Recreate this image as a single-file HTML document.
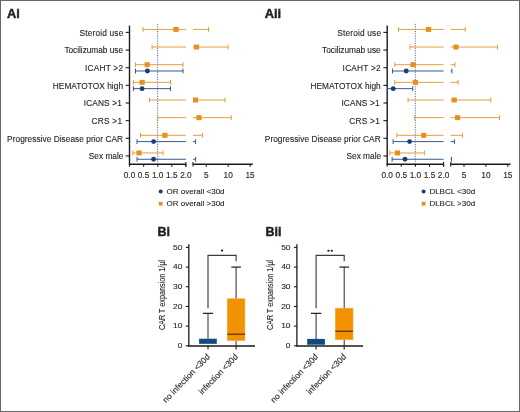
<!DOCTYPE html>
<html><head><meta charset="utf-8"><style>
html,body{margin:0;padding:0;background:#fff;}
body{width:520px;height:412px;overflow:hidden;}
#f{position:absolute;left:0;top:0;width:518px;height:410px;border:1px solid #676767;}
svg{position:absolute;left:0;top:0;will-change:transform;}
svg text{font-family:"Liberation Sans", sans-serif;fill:#231f20;stroke:#231f20;stroke-width:0.12px;}
</style></head><body>
<div id="f"></div>
<svg width="520" height="412" viewBox="0 0 520 412">
<line x1="157.6" y1="23.8" x2="157.6" y2="164.2" stroke="#52648c" stroke-width="1.0" stroke-dasharray="1.1 1.3"/>
<line x1="129.5" y1="25.6" x2="129.5" y2="164.79999999999998" stroke="#1a1a1a" stroke-width="1.4"/>
<line x1="125.7" y1="32.40" x2="129.5" y2="32.40" stroke="#1a1a1a" stroke-width="1.1"/>
<text x="79.60" y="35.60" font-size="8.3" textLength="43.70" lengthAdjust="spacing">Steroid use</text>
<line x1="125.7" y1="50.05" x2="129.5" y2="50.05" stroke="#1a1a1a" stroke-width="1.1"/>
<text x="64.40" y="53.25" font-size="8.3" textLength="58.60" lengthAdjust="spacing">Tocilizumab use</text>
<line x1="125.7" y1="67.70" x2="129.5" y2="67.70" stroke="#1a1a1a" stroke-width="1.1"/>
<text x="84.90" y="70.90" font-size="8.3" textLength="38.10" lengthAdjust="spacing">ICAHT >2</text>
<line x1="125.7" y1="85.35" x2="129.5" y2="85.35" stroke="#1a1a1a" stroke-width="1.1"/>
<text x="52.80" y="88.55" font-size="8.3" textLength="70.20" lengthAdjust="spacing">HEMATOTOX high</text>
<line x1="125.7" y1="103.00" x2="129.5" y2="103.00" stroke="#1a1a1a" stroke-width="1.1"/>
<text x="83.70" y="106.20" font-size="8.3" textLength="38.10" lengthAdjust="spacing">ICANS >1</text>
<line x1="125.7" y1="120.65" x2="129.5" y2="120.65" stroke="#1a1a1a" stroke-width="1.1"/>
<text x="91.50" y="123.85" font-size="8.3" textLength="30.60" lengthAdjust="spacing">CRS >1</text>
<line x1="125.7" y1="138.30" x2="129.5" y2="138.30" stroke="#1a1a1a" stroke-width="1.1"/>
<text x="7.10" y="141.50" font-size="8.3" textLength="115.90" lengthAdjust="spacing">Progressive Disease prior CAR</text>
<line x1="125.7" y1="155.95" x2="129.5" y2="155.95" stroke="#1a1a1a" stroke-width="1.1"/>
<text x="88.80" y="159.15" font-size="8.3" textLength="34.60" lengthAdjust="spacing">Sex male</text>
<line x1="128.9" y1="164.2" x2="185.9" y2="164.2" stroke="#1a1a1a" stroke-width="1.55"/>
<line x1="193.0" y1="164.2" x2="252.8" y2="164.2" stroke="#1a1a1a" stroke-width="1.55"/>
<line x1="185.9" y1="161.89999999999998" x2="185.9" y2="166.39999999999998" stroke="#1a1a1a" stroke-width="1.1"/>
<line x1="193.0" y1="161.89999999999998" x2="193.0" y2="166.39999999999998" stroke="#1a1a1a" stroke-width="1.1"/>
<line x1="129.50" y1="164.2" x2="129.50" y2="166.79999999999998" stroke="#1a1a1a" stroke-width="1.1"/>
<text x="129.50" y="177.90" text-anchor="middle" font-size="8.3">0.0</text>
<line x1="143.60" y1="164.2" x2="143.60" y2="166.79999999999998" stroke="#1a1a1a" stroke-width="1.1"/>
<text x="143.60" y="177.90" text-anchor="middle" font-size="8.3">0.5</text>
<line x1="157.70" y1="164.2" x2="157.70" y2="166.79999999999998" stroke="#1a1a1a" stroke-width="1.1"/>
<text x="157.70" y="177.90" text-anchor="middle" font-size="8.3">1.0</text>
<line x1="171.80" y1="164.2" x2="171.80" y2="166.79999999999998" stroke="#1a1a1a" stroke-width="1.1"/>
<text x="171.80" y="177.90" text-anchor="middle" font-size="8.3">1.5</text>
<line x1="185.90" y1="164.2" x2="185.90" y2="166.79999999999998" stroke="#1a1a1a" stroke-width="1.1"/>
<text x="185.90" y="177.90" text-anchor="middle" font-size="8.3">2.0</text>
<line x1="206.30" y1="164.2" x2="206.30" y2="166.79999999999998" stroke="#1a1a1a" stroke-width="1.1"/>
<text x="206.30" y="177.90" text-anchor="middle" font-size="8.3">5</text>
<line x1="228.20" y1="164.2" x2="228.20" y2="166.79999999999998" stroke="#1a1a1a" stroke-width="1.1"/>
<text x="228.20" y="177.90" text-anchor="middle" font-size="8.3">10</text>
<line x1="250.10" y1="164.2" x2="250.10" y2="166.79999999999998" stroke="#1a1a1a" stroke-width="1.1"/>
<text x="250.10" y="177.90" text-anchor="middle" font-size="8.3">15</text>
<line x1="143.00" y1="29.40" x2="185.90" y2="29.40" stroke="#e99634" stroke-width="0.95"/>
<line x1="193.00" y1="29.40" x2="208.50" y2="29.40" stroke="#e99634" stroke-width="0.95"/>
<line x1="143.00" y1="27.00" x2="143.00" y2="31.80" stroke="#e99634" stroke-width="0.95"/>
<line x1="208.50" y1="27.00" x2="208.50" y2="31.80" stroke="#e99634" stroke-width="0.95"/>
<line x1="152.10" y1="47.05" x2="185.90" y2="47.05" stroke="#e99634" stroke-width="0.95"/>
<line x1="193.00" y1="47.05" x2="228.10" y2="47.05" stroke="#e99634" stroke-width="0.95"/>
<line x1="152.10" y1="44.65" x2="152.10" y2="49.45" stroke="#e99634" stroke-width="0.95"/>
<line x1="228.10" y1="44.65" x2="228.10" y2="49.45" stroke="#e99634" stroke-width="0.95"/>
<line x1="135.50" y1="64.70" x2="183.00" y2="64.70" stroke="#e99634" stroke-width="0.95"/>
<line x1="135.50" y1="62.30" x2="135.50" y2="67.10" stroke="#e99634" stroke-width="0.95"/>
<line x1="183.00" y1="62.30" x2="183.00" y2="67.10" stroke="#e99634" stroke-width="0.95"/>
<line x1="135.50" y1="71.00" x2="183.00" y2="71.00" stroke="#2c5088" stroke-width="0.95"/>
<line x1="135.50" y1="68.60" x2="135.50" y2="73.40" stroke="#2c5088" stroke-width="0.95"/>
<line x1="183.00" y1="68.60" x2="183.00" y2="73.40" stroke="#2c5088" stroke-width="0.95"/>
<line x1="133.40" y1="82.35" x2="170.50" y2="82.35" stroke="#e99634" stroke-width="0.95"/>
<line x1="133.40" y1="79.95" x2="133.40" y2="84.75" stroke="#e99634" stroke-width="0.95"/>
<line x1="170.50" y1="79.95" x2="170.50" y2="84.75" stroke="#e99634" stroke-width="0.95"/>
<line x1="133.40" y1="88.65" x2="170.50" y2="88.65" stroke="#2c5088" stroke-width="0.95"/>
<line x1="133.40" y1="86.25" x2="133.40" y2="91.05" stroke="#2c5088" stroke-width="0.95"/>
<line x1="170.50" y1="86.25" x2="170.50" y2="91.05" stroke="#2c5088" stroke-width="0.95"/>
<line x1="149.50" y1="100.00" x2="185.90" y2="100.00" stroke="#e99634" stroke-width="0.95"/>
<line x1="193.00" y1="100.00" x2="225.00" y2="100.00" stroke="#e99634" stroke-width="0.95"/>
<line x1="149.50" y1="97.60" x2="149.50" y2="102.40" stroke="#e99634" stroke-width="0.95"/>
<line x1="225.00" y1="97.60" x2="225.00" y2="102.40" stroke="#e99634" stroke-width="0.95"/>
<line x1="157.75" y1="117.65" x2="185.90" y2="117.65" stroke="#e99634" stroke-width="0.95"/>
<line x1="193.00" y1="117.65" x2="231.25" y2="117.65" stroke="#e99634" stroke-width="0.95"/>
<line x1="157.75" y1="115.25" x2="157.75" y2="120.05" stroke="#e99634" stroke-width="0.95"/>
<line x1="231.25" y1="115.25" x2="231.25" y2="120.05" stroke="#e99634" stroke-width="0.95"/>
<line x1="140.50" y1="135.30" x2="185.90" y2="135.30" stroke="#e99634" stroke-width="0.95"/>
<line x1="193.00" y1="135.30" x2="202.50" y2="135.30" stroke="#e99634" stroke-width="0.95"/>
<line x1="140.50" y1="132.90" x2="140.50" y2="137.70" stroke="#e99634" stroke-width="0.95"/>
<line x1="202.50" y1="132.90" x2="202.50" y2="137.70" stroke="#e99634" stroke-width="0.95"/>
<line x1="137.00" y1="141.60" x2="185.90" y2="141.60" stroke="#2c5088" stroke-width="0.95"/>
<line x1="193.00" y1="141.60" x2="195.60" y2="141.60" stroke="#2c5088" stroke-width="0.95"/>
<line x1="137.00" y1="139.20" x2="137.00" y2="144.00" stroke="#2c5088" stroke-width="0.95"/>
<line x1="195.60" y1="139.20" x2="195.60" y2="144.00" stroke="#2c5088" stroke-width="0.95"/>
<line x1="132.75" y1="152.95" x2="163.00" y2="152.95" stroke="#e99634" stroke-width="0.95"/>
<line x1="132.75" y1="150.55" x2="132.75" y2="155.35" stroke="#e99634" stroke-width="0.95"/>
<line x1="163.00" y1="150.55" x2="163.00" y2="155.35" stroke="#e99634" stroke-width="0.95"/>
<line x1="137.00" y1="159.25" x2="185.90" y2="159.25" stroke="#2c5088" stroke-width="0.95"/>
<line x1="193.00" y1="159.25" x2="195.60" y2="159.25" stroke="#2c5088" stroke-width="0.95"/>
<line x1="137.00" y1="156.85" x2="137.00" y2="161.65" stroke="#2c5088" stroke-width="0.95"/>
<line x1="195.60" y1="156.85" x2="195.60" y2="161.65" stroke="#2c5088" stroke-width="0.95"/>
<rect x="173.40" y="26.90" width="5.2" height="5" fill="#e8901e"/>
<rect x="193.90" y="44.55" width="5.2" height="5" fill="#e8901e"/>
<rect x="144.60" y="62.20" width="5.2" height="5" fill="#e8901e"/>
<circle cx="147.40" cy="71.00" r="2.45" fill="#123f7a"/>
<rect x="139.50" y="79.85" width="5.2" height="5" fill="#e8901e"/>
<circle cx="142.10" cy="88.65" r="2.45" fill="#123f7a"/>
<rect x="193.00" y="97.50" width="5.2" height="5" fill="#e8901e"/>
<rect x="196.40" y="115.15" width="5.2" height="5" fill="#e8901e"/>
<rect x="162.30" y="132.80" width="5.2" height="5" fill="#e8901e"/>
<circle cx="153.60" cy="141.60" r="2.45" fill="#123f7a"/>
<rect x="136.40" y="150.45" width="5.2" height="5" fill="#e8901e"/>
<circle cx="153.60" cy="159.25" r="2.45" fill="#123f7a"/>
<circle cx="160.7" cy="191.6" r="2.0" fill="#123f7a"/>
<rect x="158.79999999999998" y="201.79999999999998" width="3.8" height="3.8" fill="#e8901e"/>
<text x="166.5" y="193.7" font-size="8.0">OR overall &lt;30d</text>
<text x="166.5" y="205.6" font-size="8.0">OR overall &gt;30d</text>
<line x1="415.29999999999995" y1="23.8" x2="415.29999999999995" y2="164.2" stroke="#52648c" stroke-width="1.0" stroke-dasharray="1.1 1.3"/>
<line x1="387.2" y1="25.6" x2="387.2" y2="164.79999999999998" stroke="#1a1a1a" stroke-width="1.4"/>
<line x1="383.4" y1="32.40" x2="387.2" y2="32.40" stroke="#1a1a1a" stroke-width="1.1"/>
<text x="337.30" y="35.60" font-size="8.3" textLength="43.70" lengthAdjust="spacing">Steroid use</text>
<line x1="383.4" y1="50.05" x2="387.2" y2="50.05" stroke="#1a1a1a" stroke-width="1.1"/>
<text x="322.10" y="53.25" font-size="8.3" textLength="58.60" lengthAdjust="spacing">Tocilizumab use</text>
<line x1="383.4" y1="67.70" x2="387.2" y2="67.70" stroke="#1a1a1a" stroke-width="1.1"/>
<text x="342.60" y="70.90" font-size="8.3" textLength="38.10" lengthAdjust="spacing">ICAHT >2</text>
<line x1="383.4" y1="85.35" x2="387.2" y2="85.35" stroke="#1a1a1a" stroke-width="1.1"/>
<text x="310.50" y="88.55" font-size="8.3" textLength="70.20" lengthAdjust="spacing">HEMATOTOX high</text>
<line x1="383.4" y1="103.00" x2="387.2" y2="103.00" stroke="#1a1a1a" stroke-width="1.1"/>
<text x="341.40" y="106.20" font-size="8.3" textLength="38.10" lengthAdjust="spacing">ICANS >1</text>
<line x1="383.4" y1="120.65" x2="387.2" y2="120.65" stroke="#1a1a1a" stroke-width="1.1"/>
<text x="349.20" y="123.85" font-size="8.3" textLength="30.60" lengthAdjust="spacing">CRS >1</text>
<line x1="383.4" y1="138.30" x2="387.2" y2="138.30" stroke="#1a1a1a" stroke-width="1.1"/>
<text x="264.80" y="141.50" font-size="8.3" textLength="115.90" lengthAdjust="spacing">Progressive Disease prior CAR</text>
<line x1="383.4" y1="155.95" x2="387.2" y2="155.95" stroke="#1a1a1a" stroke-width="1.1"/>
<text x="346.50" y="159.15" font-size="8.3" textLength="34.60" lengthAdjust="spacing">Sex male</text>
<line x1="386.59999999999997" y1="164.2" x2="443.6" y2="164.2" stroke="#1a1a1a" stroke-width="1.55"/>
<line x1="450.7" y1="164.2" x2="510.5" y2="164.2" stroke="#1a1a1a" stroke-width="1.55"/>
<line x1="443.6" y1="161.89999999999998" x2="443.6" y2="166.39999999999998" stroke="#1a1a1a" stroke-width="1.1"/>
<line x1="450.7" y1="161.89999999999998" x2="450.7" y2="166.39999999999998" stroke="#1a1a1a" stroke-width="1.1"/>
<line x1="387.20" y1="164.2" x2="387.20" y2="166.79999999999998" stroke="#1a1a1a" stroke-width="1.1"/>
<text x="387.20" y="177.90" text-anchor="middle" font-size="8.3">0.0</text>
<line x1="401.30" y1="164.2" x2="401.30" y2="166.79999999999998" stroke="#1a1a1a" stroke-width="1.1"/>
<text x="401.30" y="177.90" text-anchor="middle" font-size="8.3">0.5</text>
<line x1="415.40" y1="164.2" x2="415.40" y2="166.79999999999998" stroke="#1a1a1a" stroke-width="1.1"/>
<text x="415.40" y="177.90" text-anchor="middle" font-size="8.3">1.0</text>
<line x1="429.50" y1="164.2" x2="429.50" y2="166.79999999999998" stroke="#1a1a1a" stroke-width="1.1"/>
<text x="429.50" y="177.90" text-anchor="middle" font-size="8.3">1.5</text>
<line x1="443.60" y1="164.2" x2="443.60" y2="166.79999999999998" stroke="#1a1a1a" stroke-width="1.1"/>
<text x="443.60" y="177.90" text-anchor="middle" font-size="8.3">2.0</text>
<line x1="464.00" y1="164.2" x2="464.00" y2="166.79999999999998" stroke="#1a1a1a" stroke-width="1.1"/>
<text x="464.00" y="177.90" text-anchor="middle" font-size="8.3">5</text>
<line x1="485.90" y1="164.2" x2="485.90" y2="166.79999999999998" stroke="#1a1a1a" stroke-width="1.1"/>
<text x="485.90" y="177.90" text-anchor="middle" font-size="8.3">10</text>
<line x1="507.80" y1="164.2" x2="507.80" y2="166.79999999999998" stroke="#1a1a1a" stroke-width="1.1"/>
<text x="507.80" y="177.90" text-anchor="middle" font-size="8.3">15</text>
<line x1="398.50" y1="29.40" x2="443.60" y2="29.40" stroke="#e99634" stroke-width="0.95"/>
<line x1="450.70" y1="29.40" x2="465.25" y2="29.40" stroke="#e99634" stroke-width="0.95"/>
<line x1="398.50" y1="27.00" x2="398.50" y2="31.80" stroke="#e99634" stroke-width="0.95"/>
<line x1="465.25" y1="27.00" x2="465.25" y2="31.80" stroke="#e99634" stroke-width="0.95"/>
<line x1="410.00" y1="47.05" x2="443.60" y2="47.05" stroke="#e99634" stroke-width="0.95"/>
<line x1="450.70" y1="47.05" x2="497.50" y2="47.05" stroke="#e99634" stroke-width="0.95"/>
<line x1="410.00" y1="44.65" x2="410.00" y2="49.45" stroke="#e99634" stroke-width="0.95"/>
<line x1="497.50" y1="44.65" x2="497.50" y2="49.45" stroke="#e99634" stroke-width="0.95"/>
<line x1="394.75" y1="64.70" x2="443.60" y2="64.70" stroke="#e99634" stroke-width="0.95"/>
<line x1="450.70" y1="64.70" x2="455.00" y2="64.70" stroke="#e99634" stroke-width="0.95"/>
<line x1="394.75" y1="62.30" x2="394.75" y2="67.10" stroke="#e99634" stroke-width="0.95"/>
<line x1="455.00" y1="62.30" x2="455.00" y2="67.10" stroke="#e99634" stroke-width="0.95"/>
<line x1="392.50" y1="71.00" x2="443.60" y2="71.00" stroke="#2c5088" stroke-width="0.95"/>
<line x1="450.70" y1="71.00" x2="451.90" y2="71.00" stroke="#2c5088" stroke-width="0.95"/>
<line x1="392.50" y1="68.60" x2="392.50" y2="73.40" stroke="#2c5088" stroke-width="0.95"/>
<line x1="451.90" y1="68.60" x2="451.90" y2="73.40" stroke="#2c5088" stroke-width="0.95"/>
<line x1="394.75" y1="82.35" x2="443.60" y2="82.35" stroke="#e99634" stroke-width="0.95"/>
<line x1="450.70" y1="82.35" x2="458.10" y2="82.35" stroke="#e99634" stroke-width="0.95"/>
<line x1="394.75" y1="79.95" x2="394.75" y2="84.75" stroke="#e99634" stroke-width="0.95"/>
<line x1="458.10" y1="79.95" x2="458.10" y2="84.75" stroke="#e99634" stroke-width="0.95"/>
<line x1="387.40" y1="88.65" x2="412.75" y2="88.65" stroke="#2c5088" stroke-width="0.95"/>
<line x1="387.40" y1="86.25" x2="387.40" y2="91.05" stroke="#2c5088" stroke-width="0.95"/>
<line x1="412.75" y1="86.25" x2="412.75" y2="91.05" stroke="#2c5088" stroke-width="0.95"/>
<line x1="408.10" y1="100.00" x2="443.60" y2="100.00" stroke="#e99634" stroke-width="0.95"/>
<line x1="450.70" y1="100.00" x2="490.80" y2="100.00" stroke="#e99634" stroke-width="0.95"/>
<line x1="408.10" y1="97.60" x2="408.10" y2="102.40" stroke="#e99634" stroke-width="0.95"/>
<line x1="490.80" y1="97.60" x2="490.80" y2="102.40" stroke="#e99634" stroke-width="0.95"/>
<line x1="414.75" y1="117.65" x2="443.60" y2="117.65" stroke="#e99634" stroke-width="0.95"/>
<line x1="450.70" y1="117.65" x2="499.60" y2="117.65" stroke="#e99634" stroke-width="0.95"/>
<line x1="414.75" y1="115.25" x2="414.75" y2="120.05" stroke="#e99634" stroke-width="0.95"/>
<line x1="499.60" y1="115.25" x2="499.60" y2="120.05" stroke="#e99634" stroke-width="0.95"/>
<line x1="396.90" y1="135.30" x2="443.60" y2="135.30" stroke="#e99634" stroke-width="0.95"/>
<line x1="450.70" y1="135.30" x2="462.50" y2="135.30" stroke="#e99634" stroke-width="0.95"/>
<line x1="396.90" y1="132.90" x2="396.90" y2="137.70" stroke="#e99634" stroke-width="0.95"/>
<line x1="462.50" y1="132.90" x2="462.50" y2="137.70" stroke="#e99634" stroke-width="0.95"/>
<line x1="393.10" y1="141.60" x2="443.60" y2="141.60" stroke="#2c5088" stroke-width="0.95"/>
<line x1="450.70" y1="141.60" x2="454.40" y2="141.60" stroke="#2c5088" stroke-width="0.95"/>
<line x1="393.10" y1="139.20" x2="393.10" y2="144.00" stroke="#2c5088" stroke-width="0.95"/>
<line x1="454.40" y1="139.20" x2="454.40" y2="144.00" stroke="#2c5088" stroke-width="0.95"/>
<line x1="389.75" y1="152.95" x2="424.40" y2="152.95" stroke="#e99634" stroke-width="0.95"/>
<line x1="389.75" y1="150.55" x2="389.75" y2="155.35" stroke="#e99634" stroke-width="0.95"/>
<line x1="424.40" y1="150.55" x2="424.40" y2="155.35" stroke="#e99634" stroke-width="0.95"/>
<line x1="392.10" y1="159.25" x2="443.60" y2="159.25" stroke="#2c5088" stroke-width="0.95"/>
<line x1="450.70" y1="159.25" x2="451.50" y2="159.25" stroke="#2c5088" stroke-width="0.95"/>
<line x1="392.10" y1="156.85" x2="392.10" y2="161.65" stroke="#2c5088" stroke-width="0.95"/>
<line x1="451.50" y1="156.85" x2="451.50" y2="161.65" stroke="#2c5088" stroke-width="0.95"/>
<rect x="425.90" y="26.90" width="5.2" height="5" fill="#e8901e"/>
<rect x="453.40" y="44.55" width="5.2" height="5" fill="#e8901e"/>
<rect x="410.50" y="62.20" width="5.2" height="5" fill="#e8901e"/>
<circle cx="406.25" cy="71.00" r="2.45" fill="#123f7a"/>
<rect x="412.80" y="79.85" width="5.2" height="5" fill="#e8901e"/>
<circle cx="393.20" cy="88.65" r="2.45" fill="#123f7a"/>
<rect x="451.60" y="97.50" width="5.2" height="5" fill="#e8901e"/>
<rect x="455.00" y="115.15" width="5.2" height="5" fill="#e8901e"/>
<rect x="421.15" y="132.80" width="5.2" height="5" fill="#e8901e"/>
<circle cx="409.60" cy="141.60" r="2.45" fill="#123f7a"/>
<rect x="394.90" y="150.45" width="5.2" height="5" fill="#e8901e"/>
<circle cx="405.00" cy="159.25" r="2.45" fill="#123f7a"/>
<circle cx="423.59999999999997" cy="191.6" r="2.0" fill="#123f7a"/>
<rect x="421.7" y="201.79999999999998" width="3.8" height="3.8" fill="#e8901e"/>
<text x="429.4" y="193.7" font-size="8.0">DLBCL &lt;30d</text>
<text x="429.4" y="205.6" font-size="8.0">DLBCL &gt;30d</text>
<text x="7.0" y="18.3" font-size="12.8" font-weight="bold" style="stroke-width:0.45px">Ai</text>
<text x="264.7" y="18.1" font-size="12.8" font-weight="bold" style="stroke-width:0.45px">Aii</text>
<text x="157.4" y="236.0" font-size="12.5" font-weight="bold" style="stroke-width:0.45px">Bi</text>
<text x="265.5" y="235.8" font-size="12.5" font-weight="bold" style="stroke-width:0.45px">Bii</text>
<line x1="188.8" y1="244.3" x2="188.8" y2="346.4" stroke="#1a1a1a" stroke-width="1.3"/>
<line x1="185.8" y1="345.80" x2="188.8" y2="345.80" stroke="#1a1a1a" stroke-width="1.1"/>
<text transform="translate(182.40,348.10) scale(0.98,0.88)" text-anchor="end" font-size="8.6">0</text>
<line x1="185.8" y1="326.12" x2="188.8" y2="326.12" stroke="#1a1a1a" stroke-width="1.1"/>
<text transform="translate(182.40,328.42) scale(0.98,0.88)" text-anchor="end" font-size="8.6">10</text>
<line x1="185.8" y1="306.44" x2="188.8" y2="306.44" stroke="#1a1a1a" stroke-width="1.1"/>
<text transform="translate(182.40,308.74) scale(0.98,0.88)" text-anchor="end" font-size="8.6">20</text>
<line x1="185.8" y1="286.76" x2="188.8" y2="286.76" stroke="#1a1a1a" stroke-width="1.1"/>
<text transform="translate(182.40,289.06) scale(0.98,0.88)" text-anchor="end" font-size="8.6">30</text>
<line x1="185.8" y1="267.08" x2="188.8" y2="267.08" stroke="#1a1a1a" stroke-width="1.1"/>
<text transform="translate(182.40,269.38) scale(0.98,0.88)" text-anchor="end" font-size="8.6">40</text>
<line x1="185.8" y1="247.40" x2="188.8" y2="247.40" stroke="#1a1a1a" stroke-width="1.1"/>
<text transform="translate(182.40,249.70) scale(0.98,0.88)" text-anchor="end" font-size="8.6">50</text>
<line x1="188.20000000000002" y1="346.1" x2="255.0" y2="346.1" stroke="#1a1a1a" stroke-width="1.5"/>
<line x1="208.0" y1="346.1" x2="208.0" y2="349.4" stroke="#1a1a1a" stroke-width="1.1"/>
<line x1="236.1" y1="346.1" x2="236.1" y2="349.4" stroke="#1a1a1a" stroke-width="1.1"/>
<line x1="208.0" y1="313.33" x2="208.0" y2="338.72" stroke="#3e3e3e" stroke-width="1.1"/>
<line x1="202.8" y1="313.33" x2="213.2" y2="313.33" stroke="#1a1a1a" stroke-width="1.2"/>
<rect x="199.1" y="338.72" width="17.7" height="5.12" fill="#114a80"/>
<line x1="236.1" y1="267.08" x2="236.1" y2="298.76" stroke="#3e3e3e" stroke-width="1.1"/>
<line x1="236.1" y1="340.68" x2="236.1" y2="345.9" stroke="#3e3e3e" stroke-width="1.1"/>
<line x1="231.29999999999998" y1="267.08" x2="240.9" y2="267.08" stroke="#1a1a1a" stroke-width="1.2"/>
<rect x="227.3" y="298.76" width="17.6" height="41.92" fill="#f39200" stroke="#f6a832" stroke-width="0.6"/>
<line x1="227.3" y1="334.19" x2="244.9" y2="334.19" stroke="#5c2a05" stroke-width="1.2"/>
<polyline points="208.0,308.2 208.0,255.3 236.1,255.3 236.1,261.3" fill="none" stroke="#3c3c3c" stroke-width="1.15"/>
<ellipse cx="222.05" cy="250.6" rx="1.15" ry="1.05" fill="#1a1a1a"/>
<text transform="translate(165.10,330.0) rotate(-90) scale(0.82,1)" font-size="8.8">CAR T expansion 1/µl</text>
<text transform="translate(210.50,357.2) rotate(-46) " text-anchor="end" font-size="8.4">no infection &lt;30d</text>
<text transform="translate(238.60,357.2) rotate(-46) " text-anchor="end" font-size="8.4">infection &lt;30d</text>
<line x1="296.9" y1="244.3" x2="296.9" y2="346.4" stroke="#1a1a1a" stroke-width="1.3"/>
<line x1="293.9" y1="345.80" x2="296.9" y2="345.80" stroke="#1a1a1a" stroke-width="1.1"/>
<text transform="translate(290.50,348.10) scale(0.98,0.88)" text-anchor="end" font-size="8.6">0</text>
<line x1="293.9" y1="326.12" x2="296.9" y2="326.12" stroke="#1a1a1a" stroke-width="1.1"/>
<text transform="translate(290.50,328.42) scale(0.98,0.88)" text-anchor="end" font-size="8.6">10</text>
<line x1="293.9" y1="306.44" x2="296.9" y2="306.44" stroke="#1a1a1a" stroke-width="1.1"/>
<text transform="translate(290.50,308.74) scale(0.98,0.88)" text-anchor="end" font-size="8.6">20</text>
<line x1="293.9" y1="286.76" x2="296.9" y2="286.76" stroke="#1a1a1a" stroke-width="1.1"/>
<text transform="translate(290.50,289.06) scale(0.98,0.88)" text-anchor="end" font-size="8.6">30</text>
<line x1="293.9" y1="267.08" x2="296.9" y2="267.08" stroke="#1a1a1a" stroke-width="1.1"/>
<text transform="translate(290.50,269.38) scale(0.98,0.88)" text-anchor="end" font-size="8.6">40</text>
<line x1="293.9" y1="247.40" x2="296.9" y2="247.40" stroke="#1a1a1a" stroke-width="1.1"/>
<text transform="translate(290.50,249.70) scale(0.98,0.88)" text-anchor="end" font-size="8.6">50</text>
<line x1="296.29999999999995" y1="346.1" x2="363.1" y2="346.1" stroke="#1a1a1a" stroke-width="1.5"/>
<line x1="316.1" y1="346.1" x2="316.1" y2="349.4" stroke="#1a1a1a" stroke-width="1.1"/>
<line x1="344.2" y1="346.1" x2="344.2" y2="349.4" stroke="#1a1a1a" stroke-width="1.1"/>
<line x1="316.1" y1="313.33" x2="316.1" y2="338.91" stroke="#3e3e3e" stroke-width="1.1"/>
<line x1="310.90000000000003" y1="313.33" x2="321.3" y2="313.33" stroke="#1a1a1a" stroke-width="1.2"/>
<rect x="307.2" y="338.91" width="17.7" height="5.81" fill="#114a80"/>
<line x1="344.2" y1="267.08" x2="344.2" y2="308.21" stroke="#3e3e3e" stroke-width="1.1"/>
<line x1="344.2" y1="339.60" x2="344.2" y2="345.9" stroke="#3e3e3e" stroke-width="1.1"/>
<line x1="339.4" y1="267.08" x2="349.0" y2="267.08" stroke="#1a1a1a" stroke-width="1.2"/>
<rect x="335.4" y="308.21" width="17.6" height="31.39" fill="#f39200" stroke="#f6a832" stroke-width="0.6"/>
<line x1="335.4" y1="331.24" x2="353.0" y2="331.24" stroke="#5c2a05" stroke-width="1.2"/>
<polyline points="316.1,308.2 316.1,255.3 344.2,255.3 344.2,261.3" fill="none" stroke="#3c3c3c" stroke-width="1.15"/>
<ellipse cx="328.45" cy="250.7" rx="1.15" ry="1.05" fill="#1a1a1a"/>
<ellipse cx="331.85" cy="250.7" rx="1.15" ry="1.05" fill="#1a1a1a"/>
<text transform="translate(273.20,330.0) rotate(-90) scale(0.82,1)" font-size="8.8">CAR T expansion 1/µl</text>
<text transform="translate(318.60,357.2) rotate(-46) " text-anchor="end" font-size="8.4">no infection &lt;30d</text>
<text transform="translate(346.70,357.2) rotate(-46) " text-anchor="end" font-size="8.4">infection &lt;30d</text>
</svg>
</body></html>
